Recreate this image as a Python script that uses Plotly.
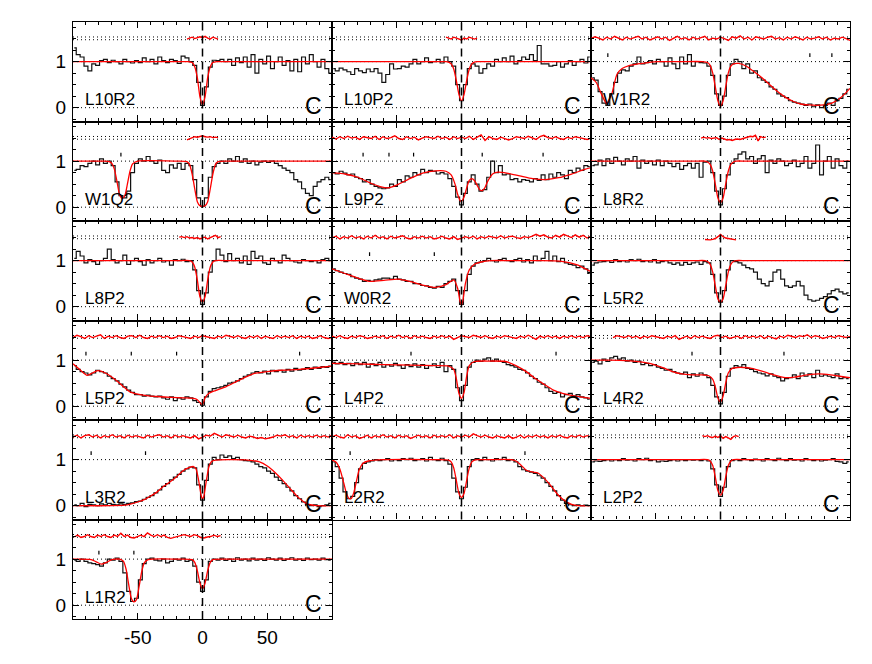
import numpy as np
import plotly.graph_objects as go
from plotly.subplots import make_subplots

# bin centres of the spectra (km/s)
vel = np.arange(-99, 100, 3)

# ---- row 1 ----
flux_L10R2 = [1.30, 1.15, 1.10, 0.90, 0.80, 0.95, 0.92, 1.02, 1.05, 0.98, 1.03,
              1.00, 0.95, 1.05, 1.00, 0.97, 1.02, 0.98, 1.08, 1.00, 1.05, 0.95,
              1.10, 1.02, 0.98, 1.05, 1.02, 0.96, 1.12, 1.08, 1.00, 0.92, 0.55,
              0.05, 0.45, 0.88, 1.03, 1.02, 1.05, 1.00, 1.05, 0.92, 1.08, 0.98,
              1.10, 0.88, 1.15, 0.75, 1.05, 0.95, 1.12, 0.85, 1.00, 1.10, 0.92,
              1.02, 0.80, 1.05, 0.78, 1.10, 0.95, 1.15, 1.00, 0.88, 1.05, 0.85, 0.75]
fitx_L10R2 = [-100, -20, -11, -8, -6, -4, -2, 0, 2, 4, 6, 8, 11, 20, 100]
fity_L10R2 = [1, 1, 1, 0.98, 0.89, 0.65, 0.24, 0.06, 0.24, 0.65, 0.89, 0.98, 1, 1, 1]
res_L10R2 = [1.49, 1.51, 1.53, 1.50, 1.52, 1.54, 1.52, 1.55, 1.51, 1.49, 1.53, 1.51, 1.49]
span_L10R2 = (-12, 12)
marks_L10R2 = []

flux_L10P2 = [0.85, 0.80, 0.86, 0.82, 0.78, 0.72, 0.85, 0.80, 0.76, 0.84, 0.78,
              0.85, 0.75, 0.55, 0.72, 0.95, 0.84, 0.85, 0.90, 0.88, 0.95, 1.05,
              0.95, 1.00, 1.08, 0.98, 1.00, 1.05, 0.97, 1.10, 1.00, 0.90, 0.50,
              0.15, 0.50, 0.85, 0.95, 0.90, 0.75, 0.85, 0.95, 0.90, 1.05, 1.00,
              1.08, 1.00, 1.12, 0.95, 1.02, 1.10, 1.05, 1.15, 1.02, 1.35, 0.95,
              0.95, 0.90, 0.92, 1.00, 0.88, 0.95, 1.02, 0.92, 1.00, 1.05, 0.97, 1.10]
fitx_L10P2 = [-100, -20, -12, -10, -8, -6, -4, -2, 0, 2, 4, 6, 8, 10, 12, 20, 100]
fity_L10P2 = [1, 1, 1, 0.99, 0.95, 0.84, 0.59, 0.29, 0.15, 0.29, 0.59, 0.84, 0.95, 0.99, 1, 1, 1]
res_L10P2 = [1.53, 1.51, 1.49, 1.53, 1.51, 1.49, 1.47, 1.51, 1.49, 1.53, 1.51, 1.49, 1.51]
span_L10P2 = (-12, 12)
marks_L10P2 = []

flux_W1R2 = [0.65, 0.60, 0.35, 0.10, 0.05, 0.30, 0.55, 0.75, 0.82, 0.80, 0.90,
             0.95, 1.10, 0.95, 0.98, 1.02, 0.95, 1.05, 1.00, 0.90, 1.08, 0.95,
             0.85, 1.10, 0.95, 1.15, 0.90, 1.00, 0.98, 0.97, 0.90, 0.70, 0.30,
             0.05, 0.25, 0.70, 0.95, 1.05, 1.00, 0.85, 0.95, 0.75, 0.80, 0.65,
             0.60, 0.55, 0.45, 0.40, 0.30, 0.25, 0.22, 0.15, 0.12, 0.10, 0.08,
             0.05, 0.08, 0.02, 0.06, 0.00, 0.05, 0.10, 0.05, 0.15, 0.20, 0.30, 0.40]
fitx_W1R2 = [-100, -96, -92, -88, -84, -80, -76, -70, -64, -56, -48, -30, -14, -10, -8, -6, -4, -2, 0, 2,
             4, 6, 8, 10, 14, 20, 26, 32, 38, 44, 50, 56, 62, 68, 74, 80, 86, 92, 96, 100]
fity_W1R2 = [0.65, 0.55, 0.30, 0.09, 0.30, 0.72, 0.85, 0.92, 0.95, 0.98, 1, 1, 1, 0.98, 0.92, 0.75, 0.45, 0.15, 0.03, 0.15,
             0.45, 0.75, 0.90, 0.95, 0.96, 0.90, 0.78, 0.65, 0.50, 0.35, 0.23, 0.14, 0.08, 0.06, 0.05, 0.06, 0.10, 0.20, 0.30, 0.42]
res_W1R2 = [1.50, 1.54, 1.51, 1.47, 1.53, 1.49, 1.55, 1.51, 1.47, 1.53, 1.49,
            1.52, 1.55, 1.49, 1.53, 1.47, 1.51, 1.54, 1.49, 1.53, 1.46, 1.51,
            1.55, 1.49, 1.52, 1.47, 1.53, 1.49, 1.52, 1.55, 1.47, 1.51, 1.49,
            1.53, 1.50, 1.46, 1.54, 1.51, 1.56, 1.49, 1.53, 1.47, 1.54, 1.51,
            1.49, 1.53, 1.55, 1.49, 1.52, 1.47, 1.53, 1.49, 1.54, 1.51, 1.47,
            1.53, 1.49, 1.51, 1.54, 1.49, 1.53, 1.47, 1.51, 1.49, 1.53, 1.50, 1.46]
span_W1R2 = (-100, 100)
marks_W1R2 = [-87, 69, 86]

# ---- row 2 ----
flux_W1Q2 = [0.80, 0.82, 0.90, 0.88, 0.95, 1.00, 0.92, 1.05, 0.95, 1.00, 0.90,
             0.55, 0.25, 0.20, 0.35, 0.75, 0.95, 1.05, 1.00, 1.10, 1.00, 0.95,
             1.02, 0.80, 0.75, 0.92, 0.85, 0.95, 0.82, 0.95, 0.90, 0.60, 0.20,
             0.02, 0.20, 0.65, 0.88, 0.95, 1.00, 0.95, 1.05, 1.00, 1.10, 0.98,
             1.05, 0.95, 1.00, 0.92, 0.98, 1.00, 0.97, 1.00, 0.95, 0.90, 0.85,
             0.80, 0.75, 0.60, 0.55, 0.40, 0.30, 0.25, 0.45, 0.55, 0.60, 0.65, 0.60]
fitx_W1Q2 = [-100, -76, -72, -70, -68, -66, -64, -62, -60, -58, -56, -54, -50, -20, -12, -10, -8, -6, -4, -2,
             0, 2, 4, 6, 8, 10, 12, 20, 100]
fity_W1Q2 = [1, 1, 0.99, 0.95, 0.82, 0.55, 0.27, 0.19, 0.25, 0.50, 0.78, 0.94, 1, 1, 0.99, 0.93, 0.72, 0.40, 0.12, 0.03,
             0.02, 0.03, 0.12, 0.40, 0.72, 0.93, 0.99, 1, 1]
res_W1Q2 = [1.46, 1.48, 1.51, 1.53, 1.52, 1.54, 1.55, 1.53, 1.52, 1.53, 1.51, 1.52, 1.51]
span_W1Q2 = (-12, 12)
marks_W1Q2 = [-63]

flux_L9P2 = [0.75, 0.72, 0.78, 0.74, 0.70, 0.72, 0.65, 0.62, 0.55, 0.60, 0.50,
             0.45, 0.42, 0.40, 0.42, 0.50, 0.45, 0.60, 0.55, 0.68, 0.65, 0.75,
             0.70, 0.82, 0.75, 0.80, 0.78, 0.72, 0.75, 0.72, 0.62, 0.45, 0.22,
             0.05, 0.30, 0.55, 0.70, 0.50, 0.35, 0.38, 0.65, 1.00, 0.75, 0.90,
             0.70, 0.72, 0.60, 0.62, 0.55, 0.60, 0.58, 0.55, 0.62, 0.58, 0.70,
             0.60, 0.72, 0.65, 0.75, 0.70, 0.62, 0.80, 0.75, 0.85, 0.80, 0.90, 0.88]
fitx_L9P2 = [-100, -90, -80, -70, -62, -57, -50, -40, -30, -20, -12, -8, -5, -3, -1, 0, 2, 4, 6, 8,
             10, 12, 14, 16, 18, 20, 24, 28, 35, 45, 55, 65, 75, 85, 95, 100]
fity_L9P2 = [0.75, 0.72, 0.65, 0.52, 0.44, 0.42, 0.48, 0.62, 0.74, 0.79, 0.78, 0.70, 0.50, 0.28, 0.14, 0.13, 0.22, 0.42, 0.58, 0.62,
             0.58, 0.48, 0.38, 0.36, 0.42, 0.55, 0.72, 0.76, 0.74, 0.68, 0.62, 0.60, 0.64, 0.72, 0.82, 0.86]
res_L9P2 = [1.52, 1.48, 1.53, 1.49, 1.54, 1.50, 1.52, 1.47, 1.53, 1.51, 1.49,
            1.54, 1.47, 1.53, 1.49, 1.51, 1.55, 1.49, 1.47, 1.53, 1.49, 1.52,
            1.46, 1.50, 1.53, 1.51, 1.49, 1.54, 1.49, 1.52, 1.47, 1.53, 1.49,
            1.52, 1.49, 1.54, 1.47, 1.52, 1.57, 1.45, 1.53, 1.49, 1.47, 1.52,
            1.49, 1.46, 1.49, 1.53, 1.51, 1.49, 1.54, 1.51, 1.47, 1.53, 1.56,
            1.51, 1.49, 1.53, 1.49, 1.47, 1.52, 1.49, 1.53, 1.51, 1.49, 1.47, 1.50]
span_L9P2 = (-100, 100)
marks_L9P2 = [-76, -56, -37, 16, 63]

flux_L8R2 = [0.90, 0.92, 1.02, 0.90, 1.05, 0.95, 1.08, 1.00, 0.92, 1.05, 1.00,
             1.10, 0.85, 1.02, 0.95, 1.00, 0.92, 1.02, 0.90, 1.00, 0.95, 0.88,
             0.95, 0.82, 0.90, 0.95, 0.85, 0.95, 0.65, 0.98, 1.00, 0.75, 0.35,
             0.05, 0.40, 0.70, 0.95, 1.05, 1.15, 1.20, 1.05, 1.10, 0.95, 1.05,
             1.12, 0.75, 1.02, 0.95, 1.05, 1.00, 0.90, 0.95, 1.02, 0.88, 0.95,
             1.10, 0.85, 0.95, 1.35, 0.70, 1.00, 1.10, 0.85, 1.05, 0.90, 0.85, 1.00]
fitx_L8R2 = [-100, -20, -12, -10, -8, -6, -4, -2, 0, 2, 4, 6, 8, 10, 12, 20, 100]
fity_L8R2 = [1, 1, 1, 0.98, 0.93, 0.78, 0.50, 0.20, 0.10, 0.20, 0.50, 0.78, 0.93, 0.98, 1, 1, 1]
res_L8R2 = [1.50, 1.52, 1.50, 1.51, 1.49, 1.50, 1.51, 1.47, 1.50, 1.48, 1.46, 1.47, 1.45,
            1.47, 1.48, 1.47, 1.49, 1.50, 1.53, 1.54, 1.53, 1.56, 1.44, 1.53, 1.51, 1.52]
span_L8R2 = (-15, 35)
marks_L8R2 = []

# ---- row 3 ----
flux_L8P2 = [1.05, 1.20, 1.10, 0.95, 1.02, 0.98, 0.92, 1.00, 1.05, 1.25, 1.02,
             0.95, 1.00, 1.12, 0.92, 1.00, 1.05, 0.98, 0.90, 1.02, 0.95, 1.00,
             1.05, 0.97, 1.00, 0.90, 1.02, 1.00, 1.03, 0.98, 1.00, 0.80, 0.35,
             0.05, 0.30, 0.75, 1.00, 1.25, 1.12, 0.98, 1.15, 1.00, 1.05, 0.95,
             1.10, 0.92, 1.20, 1.05, 1.10, 0.95, 0.92, 1.05, 1.00, 0.95, 1.12,
             1.05, 1.00, 0.97, 0.95, 1.02, 1.00, 0.98, 1.00, 0.95, 1.02, 1.05, 1.00]
fitx_L8P2 = [-100, -20, -10, -8, -6, -4, -2, 0, 2, 4, 6, 8, 10, 20, 100]
fity_L8P2 = [1, 1, 1, 0.97, 0.86, 0.58, 0.22, 0.10, 0.22, 0.58, 0.86, 0.97, 1, 1, 1]
res_L8P2 = [1.51, 1.52, 1.50, 1.52, 1.49, 1.50, 1.48, 1.50, 1.47, 1.50, 1.51, 1.47, 1.50, 1.52, 1.55, 1.50, 1.52]
span_L8P2 = (-18, 14)
marks_L8P2 = []

flux_W0R2 = [0.82, 0.78, 0.75, 0.72, 0.70, 0.65, 0.62, 0.60, 0.55, 0.57, 0.55,
             0.58, 0.60, 0.62, 0.62, 0.60, 0.66, 0.60, 0.58, 0.55, 0.55, 0.50,
             0.50, 0.46, 0.45, 0.42, 0.40, 0.44, 0.42, 0.50, 0.55, 0.60, 0.35,
             0.05, 0.35, 0.70, 0.88, 0.95, 0.97, 1.00, 1.05, 1.00, 0.97, 1.02,
             1.05, 1.00, 0.98, 1.02, 1.05, 0.97, 1.02, 0.95, 1.10, 1.00, 1.05,
             1.20, 1.00, 1.10, 0.98, 1.05, 0.95, 0.92, 0.90, 0.85, 0.88, 0.82, 0.72]
fitx_W0R2 = [-100, -90, -80, -71, -60, -49, -40, -30, -20, -12, -6, -3, -1, 0, 1, 3, 6, 10, 15, 23,
             40, 60, 76, 84, 90, 95, 100]
fity_W0R2 = [0.82, 0.72, 0.62, 0.55, 0.57, 0.60, 0.55, 0.47, 0.42, 0.48, 0.58, 0.40, 0.10, 0.04, 0.12, 0.50, 0.80, 0.92, 0.97, 1,
             1, 1, 0.99, 0.95, 0.90, 0.83, 0.76]
res_W0R2 = [1.49, 1.53, 1.47, 1.52, 1.49, 1.54, 1.49, 1.52, 1.47, 1.53, 1.49,
            1.55, 1.49, 1.52, 1.47, 1.53, 1.49, 1.52, 1.54, 1.49, 1.47, 1.52,
            1.49, 1.53, 1.49, 1.52, 1.47, 1.49, 1.53, 1.49, 1.47, 1.52, 1.46,
            1.49, 1.52, 1.49, 1.53, 1.47, 1.52, 1.49, 1.53, 1.51, 1.49, 1.54,
            1.49, 1.52, 1.53, 1.50, 1.48, 1.52, 1.50, 1.53, 1.57, 1.53, 1.56,
            1.51, 1.49, 1.55, 1.51, 1.57, 1.53, 1.50, 1.56, 1.51, 1.55, 1.49, 1.53]
span_W0R2 = (-100, 100)
marks_W0R2 = [-71, -21]

flux_L5R2 = [0.90, 0.95, 0.97, 0.98, 1.00, 0.96, 1.02, 0.98, 1.00, 0.97, 1.02,
             1.00, 1.03, 0.98, 1.00, 0.97, 1.02, 0.95, 0.98, 1.00, 0.95, 0.92,
             0.95, 0.90, 0.96, 0.92, 0.95, 0.97, 0.92, 0.98, 0.95, 0.70, 0.30,
             0.10, 0.35, 0.80, 1.00, 0.98, 0.95, 0.90, 0.85, 0.82, 0.75, 0.60,
             0.50, 0.45, 0.55, 0.75, 0.80, 0.60, 0.45, 0.42, 0.45, 0.55, 0.45,
             0.25, 0.15, 0.12, 0.14, 0.18, 0.22, 0.28, 0.35, 0.38, 0.32, 0.28, 0.30]
fitx_L5R2 = [-100, -20, -12, -10, -8, -6, -4, -2, 0, 2, 4, 6, 8, 10, 12, 20, 100]
fity_L5R2 = [1, 1, 1, 0.98, 0.92, 0.75, 0.45, 0.17, 0.10, 0.17, 0.45, 0.75, 0.92, 0.98, 1, 1, 1]
res_L5R2 = [1.46, 1.45, 1.45, 1.46, 1.48, 1.52, 1.57, 1.52, 1.49, 1.48, 1.47, 1.47, 1.45]
span_L5R2 = (-12, 12)
marks_L5R2 = []

# ---- row 4 ----
flux_L5P2 = [0.88, 0.80, 0.75, 0.72, 0.68, 0.72, 0.78, 0.75, 0.72, 0.65, 0.60,
             0.55, 0.48, 0.42, 0.35, 0.30, 0.25, 0.25, 0.22, 0.24, 0.22, 0.20,
             0.22, 0.18, 0.15, 0.20, 0.12, 0.18, 0.15, 0.20, 0.18, 0.12, 0.08,
             0.02, 0.20, 0.32, 0.38, 0.40, 0.42, 0.45, 0.50, 0.52, 0.55, 0.60,
             0.65, 0.68, 0.72, 0.75, 0.72, 0.76, 0.70, 0.78, 0.75, 0.78, 0.74,
             0.80, 0.76, 0.82, 0.78, 0.80, 0.84, 0.80, 0.85, 0.82, 0.86, 0.84, 0.87]
fitx_L5P2 = [-100, -95, -89, -85, -81, -75, -67, -60, -56, -50, -43, -35, -24, -15, -7, -4, -2, 0, 2, 5,
             10, 18, 28, 40, 50, 61, 75, 90, 100]
fity_L5P2 = [0.92, 0.80, 0.67, 0.72, 0.77, 0.72, 0.57, 0.40, 0.31, 0.26, 0.23, 0.21, 0.19, 0.18, 0.17, 0.14, 0.08, 0.03, 0.18, 0.28,
             0.34, 0.42, 0.56, 0.71, 0.75, 0.78, 0.80, 0.84, 0.87]
res_L5P2 = [1.49, 1.54, 1.51, 1.47, 1.53, 1.49, 1.52, 1.55, 1.47, 1.52, 1.49,
            1.53, 1.49, 1.47, 1.52, 1.53, 1.49, 1.54, 1.49, 1.47, 1.52, 1.49,
            1.53, 1.49, 1.52, 1.47, 1.49, 1.53, 1.51, 1.49, 1.47, 1.52, 1.49,
            1.53, 1.51, 1.49, 1.47, 1.52, 1.49, 1.54, 1.51, 1.49, 1.53, 1.49,
            1.47, 1.52, 1.49, 1.53, 1.47, 1.52, 1.49, 1.47, 1.53, 1.49, 1.52,
            1.49, 1.53, 1.47, 1.52, 1.49, 1.52, 1.47, 1.49, 1.53, 1.49, 1.47, 1.49]
span_L5P2 = (-100, 100)
marks_L5P2 = [-90, -55, -20, 75]

flux_L4P2 = [0.95, 0.92, 0.95, 0.90, 0.93, 0.88, 0.94, 0.90, 0.95, 0.85, 0.92,
             0.88, 0.95, 0.85, 0.90, 0.87, 0.93, 0.88, 0.82, 0.90, 0.86, 0.92,
             0.85, 0.90, 0.82, 0.88, 0.92, 0.84, 0.95, 0.75, 0.88, 0.80, 0.40,
             0.12, 0.45, 0.85, 0.95, 1.00, 0.97, 1.02, 1.05, 0.98, 1.02, 0.97,
             0.95, 0.90, 0.88, 0.85, 0.80, 0.78, 0.72, 0.65, 0.60, 0.52, 0.48,
             0.40, 0.32, 0.28, 0.30, 0.20, 0.25, 0.28, 0.22, 0.25, 0.20, 0.18, 0.15]
fitx_L4P2 = [-100, -80, -60, -40, -20, -10, -6, -4, -2, 0, 2, 4, 6, 10, 20, 34, 42, 50, 57, 63,
             71, 78, 84, 92, 100]
fity_L4P2 = [0.93, 0.92, 0.90, 0.89, 0.88, 0.87, 0.80, 0.60, 0.28, 0.17, 0.30, 0.65, 0.88, 0.97, 0.98, 0.97, 0.88, 0.75, 0.60, 0.49,
             0.35, 0.28, 0.24, 0.20, 0.17]
res_L4P2 = [1.52, 1.49, 1.53, 1.49, 1.47, 1.52, 1.49, 1.53, 1.51, 1.47, 1.49,
            1.52, 1.49, 1.53, 1.47, 1.52, 1.49, 1.54, 1.49, 1.52, 1.47, 1.53,
            1.49, 1.52, 1.49, 1.47, 1.52, 1.49, 1.53, 1.49, 1.52, 1.45, 1.49,
            1.53, 1.51, 1.49, 1.54, 1.52, 1.49, 1.53, 1.49, 1.47, 1.52, 1.49,
            1.53, 1.51, 1.49, 1.47, 1.52, 1.49, 1.54, 1.49, 1.45, 1.52, 1.49,
            1.53, 1.49, 1.52, 1.47, 1.52, 1.49, 1.53, 1.49, 1.52, 1.49, 1.53, 1.51]
span_L4P2 = (-100, 100)
marks_L4P2 = [-39, 73]

flux_L4R2 = [0.95, 0.98, 0.92, 1.02, 0.97, 1.05, 1.08, 1.02, 1.05, 0.98, 1.00,
             0.95, 0.98, 0.90, 0.93, 0.88, 0.90, 0.85, 0.82, 0.78, 0.80, 0.75,
             0.72, 0.70, 0.74, 0.62, 0.70, 0.65, 0.72, 0.68, 0.62, 0.45, 0.20,
             0.05, 0.30, 0.65, 0.82, 0.88, 0.85, 0.90, 0.82, 0.80, 0.75, 0.72,
             0.70, 0.66, 0.70, 0.65, 0.62, 0.55, 0.60, 0.62, 0.68, 0.60, 0.72,
             0.65, 0.70, 0.62, 0.78, 0.65, 0.68, 0.65, 0.62, 0.70, 0.60, 0.62, 0.60]
fitx_L4R2 = [-100, -85, -73, -62, -52, -44, -37, -30, -22, -14, -9, -6, -4, -2, 0, 2, 4, 6, 9, 13,
             18, 24, 32, 40, 50, 57, 63, 70, 76, 85, 92, 100]
fity_L4R2 = [1, 1, 0.99, 0.96, 0.91, 0.83, 0.75, 0.70, 0.68, 0.68, 0.66, 0.58, 0.42, 0.18, 0.09, 0.22, 0.50, 0.72, 0.82, 0.84,
             0.84, 0.82, 0.76, 0.69, 0.62, 0.63, 0.66, 0.69, 0.70, 0.68, 0.65, 0.62]
res_L4R2 = [1.49, 1.53, 1.51, 1.49, 1.53, 1.49, 1.52, 1.47, 1.52, 1.49, 1.53,
            1.51, 1.49, 1.47, 1.52, 1.49, 1.53, 1.45, 1.49, 1.52, 1.47, 1.53,
            1.49, 1.52, 1.49, 1.47, 1.52, 1.54, 1.49, 1.52, 1.47, 1.49, 1.52,
            1.47, 1.53, 1.49, 1.52, 1.49, 1.53, 1.47, 1.52, 1.49, 1.46, 1.52,
            1.49, 1.54, 1.51, 1.49, 1.53, 1.51, 1.55, 1.49, 1.53, 1.51, 1.47,
            1.49, 1.52, 1.49, 1.53, 1.51, 1.49, 1.51]
span_L4R2 = (-83, 100)
marks_L4R2 = [-22, 49]

# ---- row 5 ----
flux_L3R2 = [0.02, 0.00, 0.05, -0.02, 0.03, 0.02, 0.00, 0.04, 0.02, 0.05, 0.03,
             0.02, 0.04, 0.03, 0.05, 0.06, 0.09, 0.10, 0.14, 0.18, 0.22, 0.28,
             0.34, 0.42, 0.48, 0.56, 0.62, 0.68, 0.75, 0.80, 0.84, 0.82, 0.45,
             0.12, 0.55, 0.90, 1.05, 1.00, 1.10, 1.05, 1.08, 1.02, 1.05, 1.00,
             0.98, 0.97, 0.95, 0.90, 0.85, 0.82, 0.75, 0.70, 0.62, 0.55, 0.48,
             0.40, 0.32, 0.22, 0.15, 0.08, 0.02, 0.00, 0.02, -0.02, 0.00, 0.02, 0.05]
fitx_L3R2 = [-100, -70, -60, -55, -50, -45, -40, -35, -30, -25, -20, -15, -10, -7, -5, -3, -1, 0, 1, 3,
             5, 7, 10, 20, 35, 44, 50, 56, 62, 68, 74, 80, 88, 100]
fity_L3R2 = [0, 0, 0.01, 0.04, 0.08, 0.13, 0.21, 0.30, 0.42, 0.52, 0.63, 0.76, 0.83, 0.85, 0.80, 0.55, 0.22, 0.14, 0.20, 0.55,
             0.85, 0.96, 0.99, 1, 0.99, 0.95, 0.86, 0.72, 0.55, 0.36, 0.18, 0.05, 0.0, 0]
res_L3R2 = [1.49, 1.53, 1.47, 1.52, 1.54, 1.49, 1.53, 1.47, 1.52, 1.49, 1.54,
            1.49, 1.52, 1.47, 1.53, 1.49, 1.52, 1.49, 1.47, 1.53, 1.49, 1.52,
            1.54, 1.49, 1.52, 1.47, 1.53, 1.49, 1.52, 1.49, 1.47, 1.52, 1.45,
            1.49, 1.53, 1.51, 1.57, 1.53, 1.49, 1.54, 1.51, 1.49, 1.53, 1.49,
            1.47, 1.51, 1.49, 1.46, 1.48, 1.45, 1.47, 1.49, 1.53, 1.51, 1.54,
            1.49, 1.52, 1.47, 1.53, 1.49, 1.52, 1.49, 1.53, 1.49, 1.52, 1.49, 1.53]
span_L3R2 = (-100, 100)
marks_L3R2 = [-86, -44]

flux_L2R2 = [0.95, 0.85, 0.60, 0.30, 0.15, 0.20, 0.50, 0.80, 0.92, 0.95, 0.97,
             1.00, 0.98, 1.00, 1.02, 0.97, 1.00, 0.98, 1.02, 1.00, 1.03, 0.98,
             1.00, 1.02, 0.97, 1.05, 1.00, 0.98, 1.03, 0.98, 0.90, 0.60, 0.30,
             0.15, 0.40, 0.85, 1.00, 1.02, 0.98, 1.05, 1.00, 0.97, 1.02, 1.00,
             1.05, 0.98, 1.00, 0.95, 0.85, 0.78, 0.75, 0.73, 0.70, 0.65, 0.60,
             0.50, 0.42, 0.32, 0.22, 0.12, 0.05, 0.02, 0.00, 0.02, 0.00, 0.01, 0.00]
fitx_L2R2 = [-100, -97, -94, -91, -89, -87, -85, -83, -81, -79, -76, -72, -60, -20, -10, -8, -6, -4, -2, 0,
             2, 4, 6, 8, 10, 12, 20, 38, 42, 46, 50, 55, 59, 63, 67, 71, 75, 80, 85, 90, 100]
fity_L2R2 = [0.99, 0.95, 0.80, 0.50, 0.28, 0.16, 0.16, 0.30, 0.55, 0.78, 0.92, 0.97, 1, 1, 0.99, 0.95, 0.82, 0.55, 0.27, 0.18,
             0.27, 0.55, 0.82, 0.95, 0.99, 1, 1, 1, 0.97, 0.88, 0.77, 0.73, 0.71, 0.62, 0.50, 0.36, 0.22, 0.10, 0.03, 0.0, 0]
res_L2R2 = [1.49, 1.53, 1.49, 1.47, 1.54, 1.49, 1.52, 1.46, 1.49, 1.53, 1.47,
            1.52, 1.49, 1.54, 1.49, 1.52, 1.47, 1.53, 1.49, 1.52, 1.46, 1.49,
            1.53, 1.49, 1.52, 1.47, 1.53, 1.49, 1.52, 1.49, 1.54, 1.47, 1.52,
            1.49, 1.53, 1.49, 1.56, 1.52, 1.49, 1.53, 1.49, 1.47, 1.52, 1.49,
            1.47, 1.52, 1.46, 1.49, 1.53, 1.47, 1.52, 1.49, 1.53, 1.49, 1.52,
            1.47, 1.52, 1.49, 1.53, 1.49, 1.47, 1.52, 1.49, 1.53, 1.49, 1.52, 1.49]
span_L2R2 = (-100, 100)
marks_L2R2 = [-86, 49]

flux_L2P2 = [0.95, 0.97, 0.96, 0.98, 1.00, 0.97, 1.00, 0.98, 1.02, 0.99, 1.00,
             0.97, 1.02, 1.00, 1.03, 0.98, 1.00, 0.95, 0.97, 0.96, 0.98, 1.00,
             0.97, 1.00, 0.98, 1.00, 0.99, 1.00, 0.98, 1.00, 0.97, 0.80, 0.45,
             0.20, 0.40, 0.85, 0.98, 1.00, 0.98, 1.02, 1.00, 0.98, 1.01, 1.00,
             0.97, 1.02, 1.00, 0.98, 1.03, 1.00, 0.98, 1.02, 0.99, 1.00, 0.97,
             1.02, 1.00, 0.98, 1.00, 0.97, 0.99, 1.00, 1.02, 0.96, 0.95, 0.92, 0.95]
fitx_L2P2 = [-100, -20, -10, -8, -6, -4, -2, 0, 2, 4, 6, 8, 10, 20, 100]
fity_L2P2 = [1, 1, 1, 0.97, 0.87, 0.62, 0.33, 0.23, 0.33, 0.62, 0.87, 0.97, 1, 1, 1]
res_L2P2 = [1.52, 1.50, 1.52, 1.49, 1.48, 1.51, 1.48, 1.52, 1.46, 1.50, 1.47, 1.44, 1.50, 1.52, 1.50]
span_L2P2 = (-14, 14)
marks_L2P2 = []

# ---- row 6 ----
flux_L1R2 = [0.98, 0.95, 1.00, 0.95, 0.92, 0.90, 0.88, 0.85, 0.92, 1.00, 0.98,
             1.02, 0.95, 0.70, 0.30, 0.08, 0.15, 0.55, 0.90, 1.00, 1.02, 0.98,
             0.96, 1.00, 0.92, 0.95, 1.00, 0.98, 1.02, 0.95, 0.98, 0.85, 0.50,
             0.30, 0.55, 0.95, 1.00, 0.98, 1.02, 0.97, 1.00, 0.95, 1.03, 0.98,
             1.00, 0.96, 1.02, 0.98, 1.00, 0.97, 1.03, 1.00, 0.98, 1.02, 0.97,
             1.00, 1.03, 0.98, 1.00, 0.97, 1.02, 0.99, 1.00, 0.98, 1.02, 0.99, 0.98]
fitx_L1R2 = [-100, -86, -82, -78, -74, -70, -64, -61, -59, -57, -55, -53, -51, -49, -47, -45, -42, -20, -8, -6,
             -4, -2, 0, 2, 4, 6, 8, 20, 100]
fity_L1R2 = [1, 0.99, 0.94, 0.89, 0.93, 0.99, 1, 0.95, 0.78, 0.45, 0.15, 0.07, 0.12, 0.40, 0.72, 0.92, 0.99, 1, 0.99, 0.93,
             0.75, 0.48, 0.35, 0.48, 0.75, 0.93, 0.99, 1, 1]
res_L1R2 = [1.48, 1.52, 1.47, 1.49, 1.53, 1.49, 1.47, 1.52, 1.49, 1.53, 1.49,
            1.47, 1.52, 1.49, 1.56, 1.49, 1.52, 1.47, 1.46, 1.49, 1.52, 1.49,
            1.57, 1.52, 1.49, 1.53, 1.49, 1.52, 1.47, 1.45, 1.47, 1.49, 1.52,
            1.53, 1.51, 1.49, 1.53, 1.51, 1.47, 1.46, 1.48, 1.49, 1.52, 1.49, 1.51]
span_L1R2 = (-99, 14)
marks_L1R2 = [-80, -53]

panels = [
    ("L10R2", flux_L10R2, fitx_L10R2, fity_L10R2, res_L10R2, span_L10R2, marks_L10R2),
    ("L10P2", flux_L10P2, fitx_L10P2, fity_L10P2, res_L10P2, span_L10P2, marks_L10P2),
    ("W1R2", flux_W1R2, fitx_W1R2, fity_W1R2, res_W1R2, span_W1R2, marks_W1R2),
    ("W1Q2", flux_W1Q2, fitx_W1Q2, fity_W1Q2, res_W1Q2, span_W1Q2, marks_W1Q2),
    ("L9P2", flux_L9P2, fitx_L9P2, fity_L9P2, res_L9P2, span_L9P2, marks_L9P2),
    ("L8R2", flux_L8R2, fitx_L8R2, fity_L8R2, res_L8R2, span_L8R2, marks_L8R2),
    ("L8P2", flux_L8P2, fitx_L8P2, fity_L8P2, res_L8P2, span_L8P2, marks_L8P2),
    ("W0R2", flux_W0R2, fitx_W0R2, fity_W0R2, res_W0R2, span_W0R2, marks_W0R2),
    ("L5R2", flux_L5R2, fitx_L5R2, fity_L5R2, res_L5R2, span_L5R2, marks_L5R2),
    ("L5P2", flux_L5P2, fitx_L5P2, fity_L5P2, res_L5P2, span_L5P2, marks_L5P2),
    ("L4P2", flux_L4P2, fitx_L4P2, fity_L4P2, res_L4P2, span_L4P2, marks_L4P2),
    ("L4R2", flux_L4R2, fitx_L4R2, fity_L4R2, res_L4R2, span_L4R2, marks_L4R2),
    ("L3R2", flux_L3R2, fitx_L3R2, fity_L3R2, res_L3R2, span_L3R2, marks_L3R2),
    ("L2R2", flux_L2R2, fitx_L2R2, fity_L2R2, res_L2R2, span_L2R2, marks_L2R2),
    ("L2P2", flux_L2P2, fitx_L2P2, fity_L2P2, res_L2P2, span_L2P2, marks_L2P2),
    ("L1R2", flux_L1R2, fitx_L1R2, fity_L1R2, res_L1R2, span_L1R2, marks_L1R2),
]

FONT = "Liberation Sans, Arial, Helvetica, sans-serif"
specs = [[{}, {}, {}] for _ in range(5)] + [[{}, None, None]]
fig = make_subplots(rows=6, cols=3, specs=specs, horizontal_spacing=0, vertical_spacing=0)

for k, (name, flux, fx, fy, res, span, marks) in enumerate(panels):
    r, c = k // 3 + 1, k % 3 + 1
    ax = "" if k == 0 else str(k + 1)

    # reference lines: 0, continuum, residual band
    for yv in (0, 1, 1.475, 1.535):
        fig.add_shape(type="line", xref=f"x{ax} domain", yref=f"y{ax}", x0=0, x1=1, y0=yv, y1=yv,
                      line=dict(color="black", width=1, dash="1px,3px"), layer="below")

    fig.add_trace(go.Scatter(x=vel, y=flux, mode="lines",
                             line=dict(color="#111111", width=1.2, shape="hvh")), row=r, col=c)
    fig.add_trace(go.Scatter(x=fx, y=fy, mode="lines",
                             line=dict(color="#ff0000", width=1.3, shape="spline", smoothing=0.6)), row=r, col=c)
    rx = np.linspace(span[0], span[1], len(res))
    fig.add_trace(go.Scatter(x=rx, y=res, mode="lines",
                             line=dict(color="#ff0000", width=1.4)), row=r, col=c)
    if marks:
        mx, my = [], []
        for m in marks:
            mx += [m, m, None]
            my += [1.10, 1.18, None]
        fig.add_trace(go.Scatter(x=mx, y=my, mode="lines",
                                 line=dict(color="black", width=1.2)), row=r, col=c)

    # velocity zero
    fig.add_shape(type="line", xref=f"x{ax}", yref=f"y{ax} domain", x0=0, x1=0, y0=0, y1=1,
                  line=dict(color="black", width=1.5, dash="8px,5px"))

    fig.add_annotation(xref=f"x{ax} domain", yref=f"y{ax} domain", x=0.04, y=0.22,
                       xanchor="left", yanchor="middle", text=name, showarrow=False,
                       font=dict(family=FONT, size=17, color="black"))
    fig.add_annotation(xref=f"x{ax} domain", yref=f"y{ax} domain", x=0.968, y=0.155,
                       xanchor="right", yanchor="middle", text="C", showarrow=False,
                       font=dict(family=FONT, size=23, color="black"))

fig.update_xaxes(range=[-100, 100], tickmode="array", tickvals=[-50, 0, 50], ticktext=["-50", "0", "50"],
                 ticks="inside", ticklen=6, tickwidth=1, tickcolor="black",
                 minor=dict(dtick=10, tick0=0, ticks="inside", ticklen=3, tickcolor="black"),
                 showline=True, linewidth=1.2, linecolor="black", mirror="ticks",
                 showgrid=False, zeroline=False, showticklabels=False,
                 tickfont=dict(family=FONT, size=19, color="black"), ticklabelstandoff=1)
fig.update_xaxes(showticklabels=True, row=6, col=1)
fig.update_yaxes(range=[-0.3, 1.86], tickmode="array", tickvals=[0, 1], ticktext=["0", "1"],
                 ticks="inside", ticklen=6, tickwidth=1, tickcolor="black",
                 minor=dict(dtick=0.25, tick0=0, ticks="inside", ticklen=3, tickcolor="black"),
                 showline=True, linewidth=1.2, linecolor="black", mirror="ticks",
                 showgrid=False, zeroline=False, showticklabels=False,
                 tickfont=dict(family=FONT, size=19, color="black"), ticklabelstandoff=2)
fig.update_yaxes(showticklabels=True, col=1)

# the page body adds an 8px offset, so the figure is sized to end at the window edge
fig.update_layout(width=864, height=656, margin=dict(l=65, r=22, t=14, b=45),
                  paper_bgcolor="white", plot_bgcolor="white", showlegend=False,
                  font=dict(family=FONT, color="black"))
fig.write_html("out.html")
